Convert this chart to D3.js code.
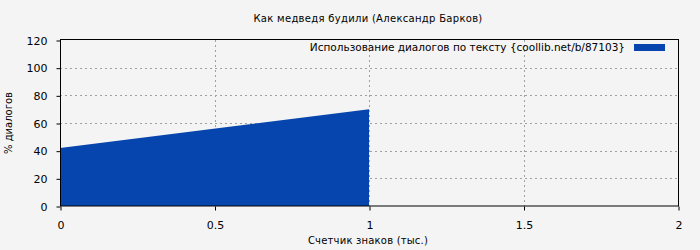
<!DOCTYPE html>
<html><head><meta charset="utf-8">
<script src="https://cdn.jsdelivr.net/npm/d3@7"></script>
<style>
body{margin:0;background:#f4f4f4;}
svg{display:block;font-family:"DejaVu Sans",sans-serif;}
</style></head><body>
<svg id="c" width="700" height="250"></svg>
<script>
const title = "Как медведя будили (Александр Барков)";
const seriesName = "Использование диалогов по тексту {coollib.net/b/87103}";
const xLabel = "Счетчик знаков (тыс.)";
const yLabel = "% диалогов";
const xs = [0, 1];
const ys = [42, 70];
const xTicks = [0, 0.5, 1, 1.5, 2];
const yTicks = [0, 20, 40, 60, 80, 100, 120];
const color = "#0645ad";

const svg = d3.select("#c");
const L = 60, R = 678, T = 40, B = 206;
const x = d3.scaleLinear().domain([0, 2]).range([L, R]);
const y = d3.scaleLinear().domain([0, 120]).range([B, T]);

svg.append("rect").attr("width",700).attr("height",250).attr("fill","#f4f4f4");

// grid
svg.append("g").selectAll("line").data(yTicks.filter(d=>d>0&&d<120)).join("line")
  .attr("x1",L).attr("x2",R).attr("y1",d=>Math.round(y(d))+0.5).attr("y2",d=>Math.round(y(d))+0.5)
  .attr("stroke","#a0a0a0").attr("stroke-dasharray","2,3");
svg.append("g").selectAll("line").data(xTicks.filter(d=>d>0&&d<2)).join("line")
  .attr("y1",T).attr("y2",B).attr("x1",d=>Math.round(x(d))+0.5).attr("x2",d=>Math.round(x(d))+0.5)
  .attr("stroke","#a0a0a0").attr("stroke-dasharray","2,3");

// area
const data = xs.map((v,i)=>[v, ys[i]]);
svg.append("path").datum(data)
  .attr("d", d3.area().x(d=>x(d[0])).y0(y(0)).y1(d=>y(d[1])))
  .attr("fill", color);

// frame
svg.append("rect").attr("x",L+0.5).attr("y",T-0.5).attr("width",R-L).attr("height",B-T+0.5)
  .attr("fill","none").attr("stroke","#000").attr("stroke-width",1);

// axes
const xa = svg.append("g").attr("transform",`translate(0.5,${B+0.5})`)
  .call(d3.axisBottom(x).tickValues(xTicks).tickSize(4).tickPadding(11).tickFormat(d3.format("")));
const ya = svg.append("g").attr("transform",`translate(${L+0.5},0.5)`)
  .call(d3.axisLeft(y).tickValues(yTicks).tickSize(4).tickPadding(9));
[xa,ya].forEach(a=>{
  a.select(".domain").remove();
  a.selectAll("text").attr("font-family","DejaVu Sans").attr("font-size",11).attr("fill","#000");
  a.selectAll("line").attr("stroke","#000");
});

// title
svg.append("text").attr("x",368).attr("y",22).attr("text-anchor","middle")
  .attr("font-size",10).attr("letter-spacing",0.3).text(title);
svg.append("text").attr("x",368).attr("y",244).attr("text-anchor","middle")
  .attr("font-size",10).attr("letter-spacing",0.2).text(xLabel);
svg.append("text").attr("transform","translate(12,123) rotate(-90)").attr("text-anchor","middle")
  .attr("font-size",10).text(yLabel);

// legend
svg.append("text").attr("x",625).attr("y",51).attr("text-anchor","end")
  .attr("font-size",10.5).text(seriesName);
svg.append("rect").attr("x",634).attr("y",44).attr("width",31).attr("height",7).attr("fill",color);
</script>
</body></html>
